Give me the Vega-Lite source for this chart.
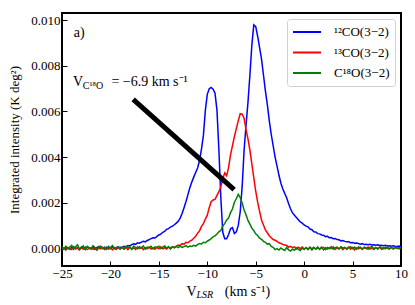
{
  "$schema": "https://vega.github.io/schema/vega-lite/v6.json",
  "width": 339,
  "height": 253,
  "autosize": {"type": "none"},
  "padding": {"left": 62, "top": 13, "right": 14, "bottom": 39},
  "background": "white",
  "config": {
    "font": "Liberation Serif",
    "view": {"stroke": "black", "strokeWidth": 2},
    "axis": {
      "domain": false, "grid": false, "tickColor": "black", "tickSize": -5, "tickWidth": 1,
      "labelColor": "black", "labelFontSize": 13, "labelFont": "Liberation Serif",
      "titleFont": "Liberation Serif", "titleFontSize": 13, "titleFontWeight": "normal", "titleColor": "black",
      "labelOverlap": false
    }
  },
  "datasets": {
    "spec": [
      {"v":-25,"a":0.00004,"b":-0.00005,"c":0.00006},
      {"v":-24.8,"a":-0.00003,"b":0.00002,"c":-0.00004},
      {"v":-24.6,"a":0.00006,"b":-0.00008,"c":0.00009},
      {"v":-24.4,"a":0.00001,"b":0.00003,"c":-0.00002},
      {"v":-24.2,"a":-0.00005,"b":-0.00002,"c":0.00005},
      {"v":-24,"a":0.00003,"b":-0.00006,"c":0.00012},
      {"v":-23.8,"a":0.00007,"b":0.00004,"c":-0.00005},
      {"v":-23.6,"a":-0.00002,"b":-0.00003,"c":0.00007},
      {"v":-23.4,"a":0.00002,"b":0.00001,"c":0.00015},
      {"v":-23.2,"a":-0.00006,"b":-0.00007,"c":-0.00003},
      {"v":-23,"a":0.00005,"b":0.00002,"c":0.00004},
      {"v":-22.8,"a":0,"b":-0.00004,"c":0.0001},
      {"v":-22.6,"a":-0.00004,"b":0.00005,"c":-0.00006},
      {"v":-22.4,"a":0.00006,"b":-0.00006,"c":0.00008},
      {"v":-22.2,"a":0.00002,"b":-0.00001,"c":0.00002},
      {"v":-22,"a":-0.00003,"b":0.00003,"c":-0.00004},
      {"v":-21.8,"a":0.00004,"b":-0.00005,"c":0.00011},
      {"v":-21.6,"a":-0.00005,"b":0.00002,"c":0.00003},
      {"v":-21.4,"a":0.00003,"b":-0.00008,"c":-0.00007},
      {"v":-21.2,"a":0.00008,"b":0.00001,"c":0.00006},
      {"v":-21,"a":-0.00001,"b":-0.00003,"c":0.00009},
      {"v":-20.8,"a":0.00002,"b":0.00004,"c":-0.00002},
      {"v":-20.6,"a":-0.00004,"b":-0.00006,"c":0.00005},
      {"v":-20.4,"a":0.00005,"b":0,"c":-0.00005},
      {"v":-20.2,"a":0.00001,"b":-0.00004,"c":0.00008},
      {"v":-20,"a":-0.00002,"b":0.00003,"c":0.00001},
      {"v":-19.8,"a":0.00006,"b":-0.00007,"c":0.00012},
      {"v":-19.6,"a":0.00003,"b":0.00002,"c":-0.00003},
      {"v":-19.4,"a":-0.00005,"b":-0.00002,"c":0.00004},
      {"v":-19.2,"a":0.00002,"b":0.00005,"c":0.00007},
      {"v":-19,"a":0.00004,"b":-0.00004,"c":-0.00004},
      {"v":-18.8,"a":0.00003,"b":0.00003,"c":0.00005},
      {"v":-18.6,"a":0.00008,"b":-0.00005,"c":-0.00003},
      {"v":-18.4,"a":0.00005,"b":0.00002,"c":0.00008},
      {"v":-18.2,"a":0.00012,"b":-0.00006,"c":0.00002},
      {"v":-18,"a":0.0001,"b":0.00004,"c":0.00006},
      {"v":-17.8,"a":0.00016,"b":-0.00003,"c":-0.00005},
      {"v":-17.6,"a":0.00019,"b":0.00001,"c":0.00009},
      {"v":-17.4,"a":0.00017,"b":-0.00005,"c":0.00003},
      {"v":-17.2,"a":0.00024,"b":0.00006,"c":-0.00002},
      {"v":-17,"a":0.00022,"b":-0.00002,"c":0.00007},
      {"v":-16.8,"a":0.00027,"b":0.00003,"c":0.00001},
      {"v":-16.6,"a":0.0003,"b":-0.00006,"c":0.0001},
      {"v":-16.4,"a":0.00028,"b":0.00002,"c":-0.00004},
      {"v":-16.2,"a":0.00034,"b":-0.00003,"c":0.00005},
      {"v":-16,"a":0.00038,"b":0.00005,"c":0.00002},
      {"v":-15.8,"a":0.00042,"b":-0.00004,"c":0.00008},
      {"v":-15.6,"a":0.00046,"b":0.00001,"c":-0.00003},
      {"v":-15.4,"a":0.00045,"b":-0.00005,"c":0.00006},
      {"v":-15.2,"a":0.00052,"b":0.00004,"c":0.00003},
      {"v":-15,"a":0.00058,"b":-0.00002,"c":0.00009},
      {"v":-14.8,"a":0.00062,"b":0.00006,"c":-0.00002},
      {"v":-14.6,"a":0.0007,"b":-0.00003,"c":0.00005},
      {"v":-14.4,"a":0.00074,"b":0.00002,"c":0.0001},
      {"v":-14.2,"a":0.00083,"b":-0.00004,"c":0.00001},
      {"v":-14,"a":0.00086,"b":0.00005,"c":0.00007},
      {"v":-13.8,"a":0.00093,"b":0,"c":-0.00004},
      {"v":-13.6,"a":0.00097,"b":0.00007,"c":0.00006},
      {"v":-13.4,"a":0.00103,"b":0.00003,"c":0.00002},
      {"v":-13.2,"a":0.0011,"b":0.00009,"c":0.00008},
      {"v":-13,"a":0.00118,"b":0.00014,"c":0.00003},
      {"v":-12.8,"a":0.00132,"b":0.00012,"c":0.00009},
      {"v":-12.6,"a":0.00152,"b":0.0002,"c":0.00004},
      {"v":-12.4,"a":0.00178,"b":0.00018,"c":0.00007},
      {"v":-12.2,"a":0.00205,"b":0.00026,"c":0.00011},
      {"v":-12,"a":0.00235,"b":0.00024,"c":0.00005},
      {"v":-11.8,"a":0.00265,"b":0.00031,"c":0.0001},
      {"v":-11.6,"a":0.0029,"b":0.00035,"c":0.00008},
      {"v":-11.4,"a":0.00312,"b":0.00044,"c":0.00013},
      {"v":-11.2,"a":0.00332,"b":0.00052,"c":0.00009},
      {"v":-11,"a":0.00352,"b":0.00066,"c":0.00016},
      {"v":-10.8,"a":0.00385,"b":0.00076,"c":0.00021},
      {"v":-10.6,"a":0.00435,"b":0.00096,"c":0.00019},
      {"v":-10.4,"a":0.00495,"b":0.00108,"c":0.00026},
      {"v":-10.2,"a":0.00605,"b":0.00128,"c":0.00024},
      {"v":-10,"a":0.00675,"b":0.00145,"c":0.00031},
      {"v":-9.8,"a":0.007,"b":0.00178,"c":0.00036},
      {"v":-9.6,"a":0.00705,"b":0.00204,"c":0.00042},
      {"v":-9.4,"a":0.00698,"b":0.00212,"c":0.0005},
      {"v":-9.2,"a":0.0068,"b":0.00214,"c":0.00054},
      {"v":-9,"a":0.00605,"b":0.00232,"c":0.00062},
      {"v":-8.8,"a":0.0043,"b":0.00248,"c":0.00072},
      {"v":-8.6,"a":0.0022,"b":0.0027,"c":0.00078},
      {"v":-8.4,"a":0.0007,"b":0.00305,"c":0.00097},
      {"v":-8.2,"a":0.00042,"b":0.0033,"c":0.00108},
      {"v":-8,"a":0.00042,"b":0.00318,"c":0.00124},
      {"v":-7.8,"a":0.0006,"b":0.00355,"c":0.00133},
      {"v":-7.6,"a":0.00085,"b":0.0041,"c":0.00156},
      {"v":-7.4,"a":0.0009,"b":0.0045,"c":0.00172},
      {"v":-7.2,"a":0.00065,"b":0.0049,"c":0.00202},
      {"v":-7,"a":0.00072,"b":0.00525,"c":0.00218},
      {"v":-6.8,"a":0.001,"b":0.0056,"c":0.00236},
      {"v":-6.6,"a":0.0016,"b":0.0059,"c":0.00222},
      {"v":-6.4,"a":0.0027,"b":0.00588,"c":0.00198},
      {"v":-6.2,"a":0.0043,"b":0.0057,"c":0.00168},
      {"v":-6,"a":0.0054,"b":0.0052,"c":0.00147},
      {"v":-5.8,"a":0.0064,"b":0.0048,"c":0.00122},
      {"v":-5.6,"a":0.0076,"b":0.0043,"c":0.00106},
      {"v":-5.4,"a":0.0089,"b":0.0037,"c":0.00088},
      {"v":-5.2,"a":0.0098,"b":0.0031,"c":0.00077},
      {"v":-5,"a":0.00972,"b":0.0025,"c":0.00063},
      {"v":-4.8,"a":0.0093,"b":0.00202,"c":0.00056},
      {"v":-4.6,"a":0.0088,"b":0.00162,"c":0.00044},
      {"v":-4.4,"a":0.0083,"b":0.00124,"c":0.00039},
      {"v":-4.2,"a":0.0076,"b":0.00102,"c":0.0003},
      {"v":-4,"a":0.0069,"b":0.0008,"c":0.00026},
      {"v":-3.8,"a":0.0063,"b":0.00068,"c":0.00018},
      {"v":-3.6,"a":0.0056,"b":0.00055,"c":0.0002},
      {"v":-3.4,"a":0.005,"b":0.00046,"c":0.00008},
      {"v":-3.2,"a":0.0045,"b":0.00038,"c":0.00004},
      {"v":-3,"a":0.004,"b":0.00035,"c":-0.00006},
      {"v":-2.8,"a":0.0036,"b":0.0003,"c":-0.00002},
      {"v":-2.6,"a":0.0032,"b":0.00024,"c":-0.00008},
      {"v":-2.4,"a":0.00285,"b":0.00021,"c":0.00001},
      {"v":-2.2,"a":0.0026,"b":0.00017,"c":-0.00005},
      {"v":-2,"a":0.0024,"b":0.00014,"c":-0.0001},
      {"v":-1.8,"a":0.0022,"b":0.00012,"c":0.00003},
      {"v":-1.6,"a":0.00195,"b":0.00005,"c":-0.00007},
      {"v":-1.4,"a":0.00172,"b":0.00008,"c":-0.00012},
      {"v":-1.2,"a":0.00155,"b":0.00002,"c":-0.00004},
      {"v":-1,"a":0.00145,"b":0.00006,"c":-0.00009},
      {"v":-0.8,"a":0.00135,"b":-0.00003,"c":0.00002},
      {"v":-0.6,"a":0.00125,"b":0.00004,"c":-0.00005},
      {"v":-0.4,"a":0.00115,"b":-0.00002,"c":-0.0001},
      {"v":-0.2,"a":0.0011,"b":0.00005,"c":0},
      {"v":0,"a":0.00102,"b":-0.00004,"c":-0.00006},
      {"v":0.2,"a":0.00097,"b":0.00002,"c":0.00003},
      {"v":0.4,"a":0.00094,"b":-0.00006,"c":-0.00004},
      {"v":0.6,"a":0.00084,"b":0.00003,"c":0.00005},
      {"v":0.8,"a":0.00081,"b":-0.00002,"c":-0.00008},
      {"v":1,"a":0.00072,"b":0.00004,"c":0.00002},
      {"v":1.2,"a":0.00071,"b":-0.00005,"c":-0.00003},
      {"v":1.4,"a":0.00064,"b":0.00001,"c":0.00006},
      {"v":1.6,"a":0.00063,"b":-0.00003,"c":-0.00005},
      {"v":1.8,"a":0.00058,"b":0.00005,"c":0.00001},
      {"v":2,"a":0.00057,"b":-0.00007,"c":0.00004},
      {"v":2.2,"a":0.00051,"b":0.00002,"c":-0.00006},
      {"v":2.4,"a":0.00052,"b":-0.00004,"c":0.00003},
      {"v":2.6,"a":0.00046,"b":0.00003,"c":-0.00002},
      {"v":2.8,"a":0.00047,"b":-0.00002,"c":0.00007},
      {"v":3,"a":0.00042,"b":0.00006,"c":-0.00004},
      {"v":3.2,"a":0.00043,"b":-0.00005,"c":0.00002},
      {"v":3.4,"a":0.00038,"b":0.00001,"c":0.00005},
      {"v":3.6,"a":0.00037,"b":-0.00003,"c":-0.00003},
      {"v":3.8,"a":0.00032,"b":0.00004,"c":0.00006},
      {"v":4,"a":0.00034,"b":-0.00006,"c":0},
      {"v":4.2,"a":0.0003,"b":0.00002,"c":0.00004},
      {"v":4.4,"a":0.00028,"b":-0.00002,"c":-0.00005},
      {"v":4.6,"a":0.00028,"b":0.00005,"c":0.00003},
      {"v":4.8,"a":0.00024,"b":-0.00004,"c":0.00007},
      {"v":5,"a":0.00025,"b":0.00003,"c":-0.00002},
      {"v":5.2,"a":0.00022,"b":-0.00007,"c":0.00005},
      {"v":5.4,"a":0.00023,"b":0.00001,"c":-0.00004},
      {"v":5.6,"a":0.00021,"b":-0.00003,"c":0.00006},
      {"v":5.8,"a":0.00018,"b":0.00004,"c":0.00002},
      {"v":6,"a":0.0002,"b":-0.00005,"c":-0.00003},
      {"v":6.2,"a":0.00016,"b":0.00002,"c":0.00005},
      {"v":6.4,"a":0.00017,"b":-0.00002,"c":0.00001},
      {"v":6.6,"a":0.00015,"b":0.00005,"c":-0.00005},
      {"v":6.8,"a":0.00017,"b":-0.00004,"c":0.00004},
      {"v":7,"a":0.00014,"b":0.00001,"c":0.00008},
      {"v":7.2,"a":0.00015,"b":-0.00006,"c":-0.00002},
      {"v":7.4,"a":0.00013,"b":0.00003,"c":0.00003},
      {"v":7.6,"a":0.00015,"b":-0.00002,"c":-0.00004},
      {"v":7.8,"a":0.00012,"b":0.00004,"c":0.00006},
      {"v":8,"a":0.00013,"b":-0.00005,"c":0.00002},
      {"v":8.2,"a":0.00011,"b":0.00002,"c":-0.00003},
      {"v":8.4,"a":0.00013,"b":-0.00003,"c":0.00005},
      {"v":8.6,"a":0.0001,"b":0.00005,"c":0},
      {"v":8.8,"a":0.00011,"b":-0.00002,"c":-0.00004},
      {"v":9,"a":0.00009,"b":0.00003,"c":0.00004},
      {"v":9.2,"a":0.00011,"b":-0.00004,"c":-0.00002},
      {"v":9.4,"a":0.00009,"b":0.00002,"c":0.00005},
      {"v":9.6,"a":0.00008,"b":-0.00001,"c":0.00001},
      {"v":9.8,"a":0.0001,"b":0.00003,"c":-0.00003},
      {"v":10,"a":0.00008,"b":0,"c":0.00004}
    ]
  },
  "layer": [
    {
      "data": {"name": "spec"},
      "transform": [{"fold": ["a", "b", "c"], "as": ["key", "val"]}],
      "mark": {"type": "line", "strokeWidth": 1.5, "clip": true},
      "encoding": {
        "x": {"field": "v", "type": "quantitative",
              "scale": {"domain": [-25, 10], "nice": false, "zero": false},
              "axis": {"title": null, "values": [-25, -20, -15, -10, -5, 0, 5, 10], "labelPadding": 6, "labelFlush": false}},
        "y": {"field": "val", "type": "quantitative",
              "scale": {"domain": [-0.00078, 0.01032], "nice": false, "zero": false},
              "axis": {"title": "Integrated intensity (K deg²)", "values": [0, 0.002, 0.004, 0.006, 0.008, 0.01], "format": ".3f", "labelPadding": 7, "titlePadding": 9}},
        "color": {"field": "key", "type": "nominal",
                  "scale": {"domain": ["a", "b", "c"], "range": ["#0000ff", "#ff0000", "#008000"]},
                  "legend": {"title": null, "orient": "top-right", "offset": 6, "fillColor": "white", "strokeColor": "#d0d0d0",
                             "cornerRadius": 3, "padding": 5, "symbolType": "stroke", "symbolSize": 784, "symbolStrokeWidth": 1.8,
                             "clipHeight": 16, "rowPadding": 4.5, "labelOffset": 12, "labelFontSize": 13, "labelFont": "Liberation Serif", "labelColor": "black",
                             "labelExpr": "datum.label == 'a' ? '¹²CO(3−2)' : datum.label == 'b' ? '¹³CO(3−2)' : 'C¹⁸O(3−2)'"}}
      }
    },
    {
      "data": {"values": [{"x1": -17.65, "y1": 0.00653, "x2": -7.23, "y2": 0.00257}]},
      "mark": {"type": "rule", "color": "black", "strokeWidth": 5, "strokeCap": "butt"},
      "encoding": {
        "x": {"field": "x1", "type": "quantitative"},
        "y": {"field": "y1", "type": "quantitative"},
        "x2": {"field": "x2"},
        "y2": {"field": "y2"}
      }
    },
    {
      "data": {"values": [
        {"x": -23.86, "y": 0.00711, "t": "V"},
        {"x": -19.9, "y": 0.00711, "t": "= −6.9 km s⁻¹"},
        {"x": -23.79, "y": 0.00927, "t": "a)"},
        {"x": -12.15, "y": -0.00208, "t": "V"},
        {"x": -8.19, "y": -0.00208, "t": "(km s⁻¹)"}
      ]},
      "mark": {"type": "text", "align": "left", "baseline": "alphabetic", "fontSize": 14, "font": "Liberation Serif", "color": "black"},
      "encoding": {
        "x": {"field": "x", "type": "quantitative"},
        "y": {"field": "y", "type": "quantitative"},
        "text": {"field": "t"}
      }
    },
    {
      "data": {"values": [{"x": -22.86, "y": 0.00697, "t": "C¹⁸O"}]},
      "mark": {"type": "text", "align": "left", "baseline": "alphabetic", "fontSize": 10, "font": "Liberation Serif", "color": "black"},
      "encoding": {
        "x": {"field": "x", "type": "quantitative"},
        "y": {"field": "y", "type": "quantitative"},
        "text": {"field": "t"}
      }
    },
    {
      "data": {"values": [{"x": -11.12, "y": -0.00219, "t": "LSR"}]},
      "mark": {"type": "text", "align": "left", "baseline": "alphabetic", "fontSize": 10, "fontStyle": "italic", "font": "Liberation Serif", "color": "black"},
      "encoding": {
        "x": {"field": "x", "type": "quantitative"},
        "y": {"field": "y", "type": "quantitative"},
        "text": {"field": "t"}
      }
    }
  ]
}
